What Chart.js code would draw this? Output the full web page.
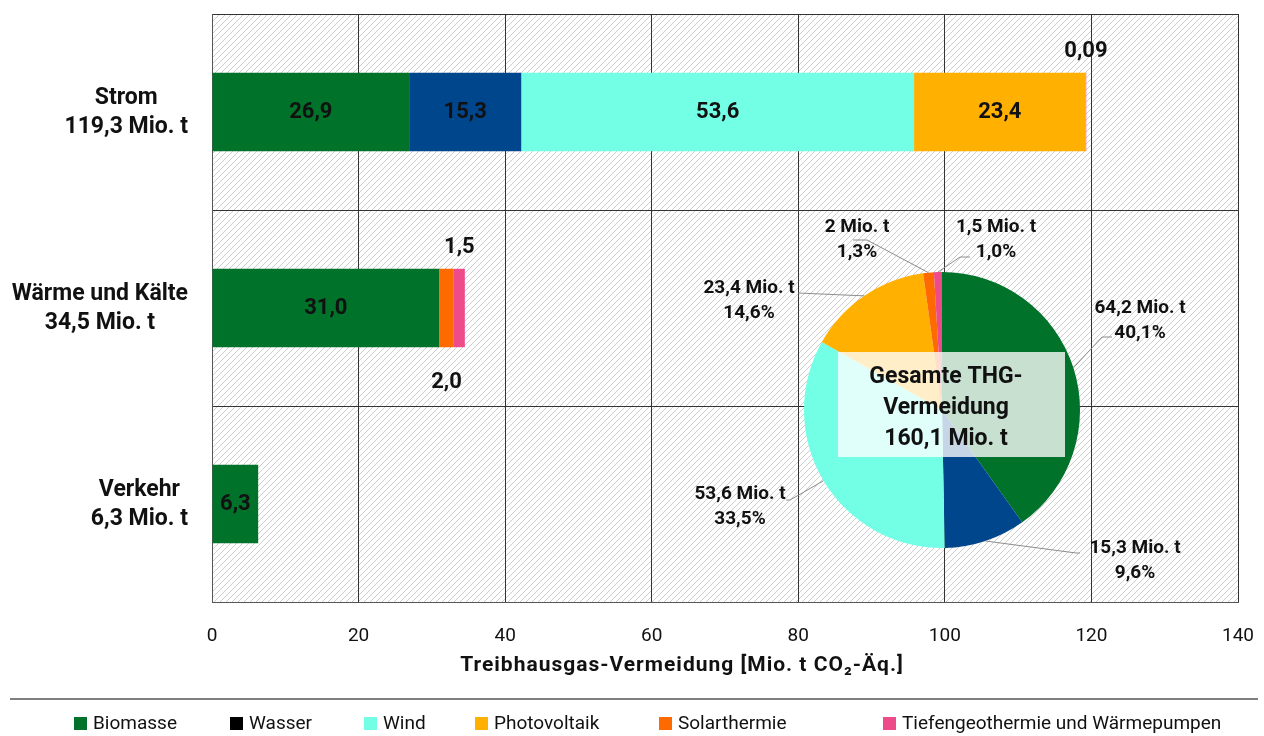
<!DOCTYPE html>
<html lang="de">
<head>
<meta charset="utf-8">
<title>THG-Vermeidung durch erneuerbare Energien</title>
<script src="https://cdn.jsdelivr.net/npm/chart.js@4/dist/chart.umd.min.js"></script>
<style>
  html, body { margin: 0; padding: 0; background: #fff; }
  #wrap { position: relative; width: 1264px; height: 736px; }
  #wrap canvas { position: absolute; left: 0; top: 0; }
</style>
</head>
<body>
<div id="wrap">
  <canvas id="bar-chart" width="1264" height="736"></canvas>
  <canvas id="pie-chart" width="1264" height="736"></canvas>
</div>
<script>
// data
var CATEGORIES = [['Strom', '119,3 Mio. t'], ['Wärme und Kälte', '34,5 Mio. t'], ['Verkehr', '6,3 Mio. t']];
var SOURCES = ['Biomasse', 'Wasser', 'Wind', 'Photovoltaik', 'Solarthermie', 'Tiefengeothermie und Wärmepumpen'];
var BIOMASSE = [26.9, 31.0, 6.3];
var WASSER = [15.3, 0, 0];
var WIND = [53.6, 0, 0];
var PHOTOVOLTAIK = [23.4, 0, 0];
var SOLARTHERMIE = [0, 2.0, 0];
var GEOTHERMIE = [0.09, 1.5, 0];
var X_TICKS = [0, 20, 40, 60, 80, 100, 120, 140];
var X_TITLE = 'Treibhausgas-Vermeidung [Mio. t CO₂-Äq.]';

var PIE_VALUES = [64.2, 15.3, 53.6, 23.4, 2, 1.5];
var PIE_SHARES = [40.1, 9.6, 33.5, 14.6, 1.3, 1.0];
var TOTAL = 160.1;

// styling
var COLORS = ['#007229', '#00468C', '#73FFE6', '#FFB000', '#FF6A00', '#EE4B8A'];
var LEGEND_COLORS = ['#007229', '#000000', '#73FFE6', '#FFB000', '#FF6A00', '#EE4B8A'];
var LEGEND_X = [74, 230, 364, 475, 659, 883];
var FONT = 'Roboto, "Open Sans", sans-serif';
var TEXT = '#111';

// pie label layout: text centre, line end and elbow end
var PIE_LABELS = [
  { tx: 1140, ty: 308, lx: 1102, ly: 337, ex: 1112 },
  { tx: 1135, ty: 548, lx: 1076, ly: 553, ex: 1080 },
  { tx: 740, ty: 494, lx: 790, ly: 500, ex: 786 },
  { tx: 749, ty: 288, lx: 798, ly: 293, ex: 798 },
  { tx: 857, ty: 227, lx: 867, ly: 240, ex: 853 },
  { tx: 996, ty: 227, lx: 960, ly: 257, ex: 970 }
];

(function () {
  'use strict';

  function de(v, digits) {
    return v.toFixed(digits).replace('.', ',');
  }

  function barLabel(v) {
    return v < 0.1 ? de(v, 2) : de(v, 1);
  }

  function makeHatch(ctx) {
    var c = document.createElement('canvas');
    c.width = 6; c.height = 6;
    var g = c.getContext('2d');
    g.fillStyle = '#fff';
    g.fillRect(0, 0, 6, 6);
    g.strokeStyle = '#cdcdcd';
    g.lineWidth = 1;
    g.beginPath();
    g.moveTo(0, 6); g.lineTo(6, 0);
    g.moveTo(-1, 1); g.lineTo(1, -1);
    g.moveTo(5, 7); g.lineTo(7, 5);
    g.stroke();
    return ctx.createPattern(c, 'repeat');
  }

  var hatchPlugin = {
    id: 'hatch',
    beforeDraw: function (chart) {
      var a = chart.chartArea, ctx = chart.ctx;
      ctx.save();
      ctx.fillStyle = makeHatch(ctx);
      ctx.fillRect(a.left, a.top, a.right - a.left, a.bottom - a.top);
      ctx.restore();
    }
  };

  // two-line category names, lines centred within the block, blocks right aligned
  var categoryPlugin = {
    id: 'categoryLabels',
    afterDraw: function (chart) {
      var ctx = chart.ctx, y = chart.scales.y;
      ctx.save();
      ctx.font = 'bold 23px ' + FONT;
      ctx.fillStyle = TEXT;
      ctx.textAlign = 'center';
      ctx.textBaseline = 'middle';
      CATEGORIES.forEach(function (lines, i) {
        var w = Math.max.apply(null, lines.map(function (l) { return ctx.measureText(l).width; }));
        var cx = 188 - w / 2;
        var cy = y.getPixelForValue(i);
        ctx.fillText(lines[0], cx, cy - 14);
        ctx.fillText(lines[1], cx, cy + 15);
      });
      ctx.restore();
    }
  };

  var valuePlugin = {
    id: 'barValues',
    afterDatasetsDraw: function (chart) {
      var ctx = chart.ctx;
      ctx.save();
      ctx.font = 'bold 22px ' + FONT;
      ctx.fillStyle = TEXT;
      ctx.textAlign = 'center';
      ctx.textBaseline = 'middle';
      chart.data.datasets.forEach(function (ds, di) {
        chart.getDatasetMeta(di).data.forEach(function (bar, i) {
          var v = ds.data[i];
          if (!v) return;
          var p = bar.getProps(['x', 'y', 'base', 'height'], true);
          var cx = (p.x + p.base) / 2;
          if (Math.abs(p.x - p.base) > 30) {
            ctx.fillText(barLabel(v), cx, p.y);
          } else if (ds.smallLabel === 'below') {
            ctx.fillText(barLabel(v), cx, p.y + p.height / 2 + 35);
          } else {
            ctx.fillText(barLabel(v), cx, p.y - p.height / 2 - 21);
          }
        });
      });
      ctx.restore();
    }
  };

  // axis title, separator rule and legend
  var footerPlugin = {
    id: 'footer',
    afterDraw: function (chart) {
      var ctx = chart.ctx;
      ctx.save();
      ctx.fillStyle = TEXT;
      ctx.font = 'bold 21px ' + FONT;
      ctx.letterSpacing = '1px';
      ctx.textAlign = 'center';
      ctx.textBaseline = 'middle';
      ctx.fillText(X_TITLE, 682, 666);
      ctx.letterSpacing = '0px';

      ctx.strokeStyle = '#555';
      ctx.lineWidth = 1.5;
      ctx.beginPath();
      ctx.moveTo(10, 699); ctx.lineTo(1258, 699);
      ctx.stroke();

      ctx.font = '19px ' + FONT;
      ctx.textAlign = 'left';
      SOURCES.forEach(function (name, i) {
        ctx.fillStyle = LEGEND_COLORS[i];
        ctx.fillRect(LEGEND_X[i], 717, 13, 13);
        ctx.fillStyle = TEXT;
        ctx.fillText(name, LEGEND_X[i] + 19, 724);
      });
      ctx.restore();
    }
  };

  var series = [BIOMASSE, WASSER, WIND, PHOTOVOLTAIK, SOLARTHERMIE, GEOTHERMIE];
  var datasets = series.map(function (data, i) {
    return {
      label: SOURCES[i],
      data: data,
      backgroundColor: COLORS[i],
      borderWidth: 0,
      categoryPercentage: 1,
      barPercentage: 0.4,
      smallLabel: i === 4 ? 'below' : 'above'
    };
  });

  new Chart(document.getElementById('bar-chart'), {
    type: 'bar',
    data: { labels: CATEGORIES.map(function (c) { return c.join(' '); }), datasets: datasets },
    options: {
      indexAxis: 'y',
      responsive: false,
      animation: false,
      layout: { padding: { top: 14, right: 26, bottom: 0, left: 0 } },
      plugins: { legend: { display: false }, tooltip: { enabled: false } },
      scales: {
        x: {
          stacked: true,
          min: 0,
          max: 140,
          afterBuildTicks: function (scale) {
            scale.ticks = X_TICKS.map(function (v) { return { value: v }; });
          },
          afterFit: function (scale) {
            scale.height = 134;
            scale.paddingLeft = 0;
            scale.paddingRight = 0;
          },
          grid: { color: '#333', lineWidth: 1, drawTicks: false },
          border: { color: '#555' },
          ticks: { color: TEXT, font: { family: FONT, size: 19 }, padding: 23 }
        },
        y: {
          stacked: true,
          grid: { color: '#333', lineWidth: 1, drawTicks: false, offset: true },
          border: { color: '#555' },
          ticks: { display: false },
          afterFit: function (scale) { scale.width = 212; }
        }
      }
    },
    plugins: [hatchPlugin, categoryPlugin, valuePlugin, footerPlugin]
  });

  var pieLabelPlugin = {
    id: 'pieLabels',
    afterDraw: function (chart) {
      var ctx = chart.ctx;
      var arcs = chart.getDatasetMeta(0).data;
      ctx.save();
      ctx.strokeStyle = '#8c8c8c';
      ctx.lineWidth = 1;
      ctx.font = 'bold 19px ' + FONT;
      ctx.fillStyle = TEXT;
      ctx.textAlign = 'center';
      ctx.textBaseline = 'middle';
      arcs.forEach(function (arc, i) {
        var p = arc.getProps(['x', 'y', 'startAngle', 'endAngle', 'outerRadius'], true);
        var mid = (p.startAngle + p.endAngle) / 2;
        var L = PIE_LABELS[i];
        ctx.beginPath();
        ctx.moveTo(p.x + Math.cos(mid) * p.outerRadius, p.y + Math.sin(mid) * p.outerRadius);
        ctx.lineTo(L.lx, L.ly);
        ctx.lineTo(L.ex, L.ly);
        ctx.stroke();
        var v = PIE_VALUES[i];
        var vs = Number.isInteger(v) ? String(v) : de(v, 1);
        ctx.fillText(vs + ' Mio. t', L.tx, L.ty);
        ctx.fillText(de(PIE_SHARES[i], 1) + '%', L.tx, L.ty + 25);
      });

      // total box over the centre of the pie
      var c = arcs[0].getProps(['x', 'y'], true);
      ctx.fillStyle = 'rgba(255, 255, 255, 0.78)';
      ctx.fillRect(c.x - 104, c.y - 58, 227, 105);
      ctx.fillStyle = TEXT;
      ctx.font = 'bold 23px ' + FONT;
      ctx.fillText('Gesamte THG-', c.x + 4, c.y - 33);
      ctx.fillText('Vermeidung', c.x + 4, c.y - 2);
      ctx.fillText(de(TOTAL, 1) + ' Mio. t', c.x + 4, c.y + 29);
      ctx.restore();
    }
  };

  new Chart(document.getElementById('pie-chart'), {
    type: 'pie',
    data: {
      labels: SOURCES,
      datasets: [{ data: PIE_VALUES, backgroundColor: COLORS, borderWidth: 0 }]
    },
    options: {
      responsive: false,
      animation: false,
      layout: { padding: { left: 804, right: 184, top: 272, bottom: 188 } },
      plugins: { legend: { display: false }, tooltip: { enabled: false } }
    },
    plugins: [pieLabelPlugin]
  });
})();
</script>
</body>
</html>
